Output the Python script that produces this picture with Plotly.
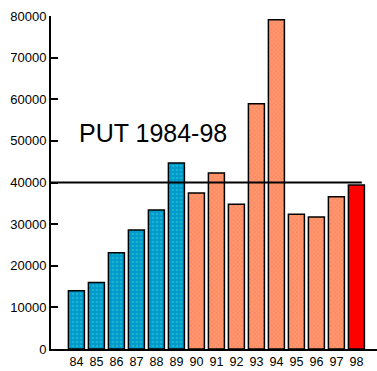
import plotly.graph_objects as go

years = ["84", "85", "86", "87", "88", "89", "90", "91", "92", "93", "94", "95", "96", "97", "98"]
values = [14000, 16000, 23100, 28600, 33400, 44700, 37500, 42300, 34800, 58900, 79100, 32400, 31700, 36600, 39400]
groups = ["a"] * 6 + ["b"] * 8 + ["c"]
ref_level = 40000
title_text = "PUT 1984-98"
y_ticks = [0, 10000, 20000, 30000, 40000, 50000, 60000, 70000, 80000]

styles = {
    "a": dict(color="#0099cc", fg="#33cccc", shape=".", size=4, sol=0.35),
    "b": dict(color="#ff9966", fg="#ff6680", shape="x", size=3, sol=0.4),
    "c": dict(color="#ff0000", fg="#ff0000", shape="", size=4, sol=0.3),
}

fig = go.Figure()
for g in ["a", "b", "c"]:
    xs = [y for y, gg in zip(years, groups) if gg == g]
    vs = [v for v, gg in zip(values, groups) if gg == g]
    s = styles[g]
    fig.add_trace(go.Bar(
        x=xs, y=vs,
        marker=dict(
            color=s["color"],
            line=dict(color="black", width=1.5),
            pattern=dict(shape=s["shape"], fgcolor=s["fg"], bgcolor=s["color"],
                         size=s["size"], solidity=s["sol"], fillmode="overlay"),
        ),
        showlegend=False,
    ))

fig.add_shape(type="line", xref="x", yref="y", x0=-1.27, x1=14.27,
              y0=ref_level, y1=ref_level, line=dict(color="black", width=2))

fig.add_annotation(text=title_text, xref="paper", yref="paper", x=0.313, y=0.649,
                   xanchor="center", yanchor="middle", showarrow=False,
                   font=dict(family="Liberation Sans", size=25, color="black"))

fig.update_layout(
    width=377, height=371,
    margin=dict(l=51, r=0, t=16, b=22, autoexpand=False),
    paper_bgcolor="white", plot_bgcolor="white",
    bargap=0.2,
    font=dict(family="Liberation Sans", size=13, color="black"),
    xaxis=dict(type="category", categoryorder="array", categoryarray=years,
               range=[-1.27, 15.03], showline=True, linecolor="black", linewidth=2,
               ticks="", showgrid=False, zeroline=False, automargin=False,
               tickfont=dict(size=12.5)),
    yaxis=dict(range=[0, 80000], tickvals=y_ticks, ticktext=[str(v) for v in y_ticks],
               showline=True, linecolor="black", linewidth=2,
               ticks="inside", ticklen=7, tickwidth=2, tickcolor="black",
               showgrid=False, zeroline=False, automargin=False, tickfont=dict(size=13)),
)

fig.write_html("out.html", config={"displayModeBar": False},
               post_script="document.body.style.margin='0px';document.body.style.padding='0px';")
